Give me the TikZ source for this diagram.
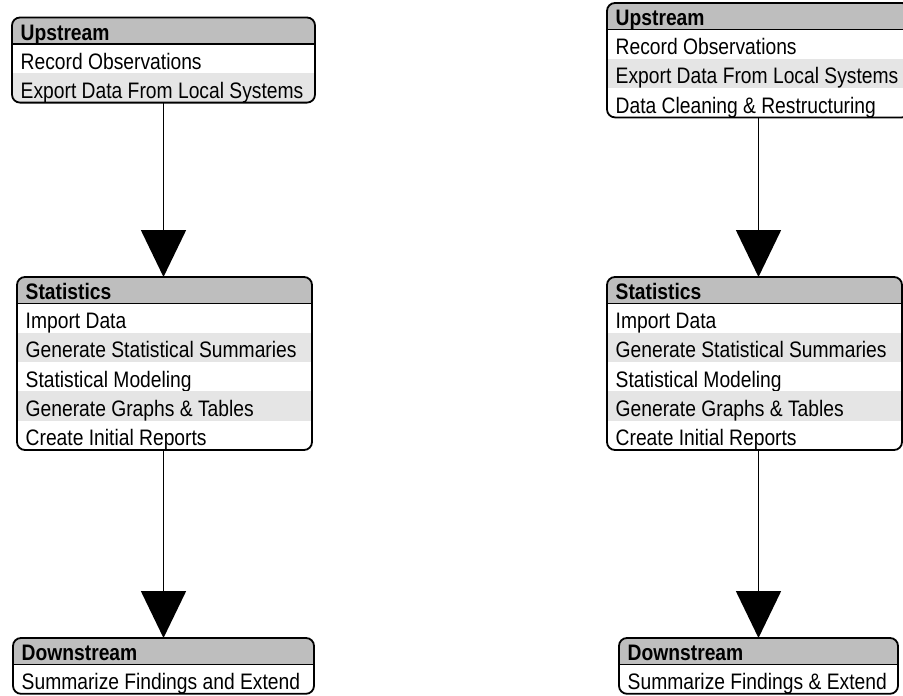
\documentclass[tikz,border=0pt]{standalone}
\usepackage{fontspec}
\setmainfont{Liberation Sans}[FakeStretch=0.86]
\usetikzlibrary{arrows.meta,calc}
\definecolor{headgray}{RGB}{190,190,190}
\definecolor{rowgray}{RGB}{229,229,229}
\tikzset{
  boxframe/.style={draw=black, line width=1.8pt, rounded corners=8pt, inner sep=0pt, outer sep=0pt, anchor=north west},
  rowtext/.style={anchor=base west, inner sep=0pt, font=\fontsize{22.4}{26}\selectfont},
  headtext/.style={anchor=base west, inner sep=0pt, font=\fontsize{22.4}{26}\selectfont\bfseries},
  flow/.style={line width=1.7pt, -{Triangle[width=45pt,length=47pt]}},
}
% #1 name, #2 left, #3 width, #4 top, #5 number of rows, #6 header, #7 rows
\newcommand\umlbox[7]{%
  \pgfmathsetmacro\bR{#2+#3}%
  \pgfmathsetmacro\bH{26.5+#5*29.3}%
  \pgfmathsetmacro\bB{#4+\bH}%
  \pgfmathsetmacro\bS{#4+26.5}%
  \begin{scope}
    \clip[rounded corners=8pt] (#2,#4) rectangle (\bR,\bB);
    \fill[white] (#2,#4) rectangle (\bR,\bB);
    \fill[headgray] (#2,#4) rectangle (\bR,\bS);
    \foreach \t [count=\i] in {#7} {
      \pgfmathsetmacro\rt{\bS+(\i-1)*29.3}
      \ifodd\i\else\fill[rowgray] (#2,\rt) rectangle (\bR,\rt+29.3);\fi
      \node[rowtext] (#1-\i) at (#2+8.5,\rt+25) {\t};
    }
  \end{scope}
  \node[headtext] (#1-h) at (#2+8.5,#4+22.5) {#6};
  \draw[line width=1.8pt] (#2,\bS) -- (\bR,\bS);
  \node[boxframe, minimum width=#3pt, minimum height=\bH pt] (#1) at (#2,#4) {};
}
\begin{document}
\begin{tikzpicture}[x=1pt,y=-1pt]
\path[use as bounding box, clip] (0,0) rectangle (903,696);
% left column
\umlbox{lu}{12}{303}{17.5}{2}{Upstream}{Record Observations,Export Data From Local Systems}
\umlbox{ls}{17}{295}{277}{5}{Statistics}{Import Data,Generate Statistical Summaries,Statistical Modeling,Generate Graphs \& Tables,Create Initial Reports}
\umlbox{ld}{13}{301}{638}{1}{Downstream}{Summarize Findings and Extend}
% right column
\umlbox{ru}{607}{303}{3}{3}{Upstream}{Record Observations,Export Data From Local Systems,Data Cleaning \& Restructuring}
\umlbox{rs}{607}{295}{277}{5}{Statistics}{Import Data,Generate Statistical Summaries,Statistical Modeling,Generate Graphs \& Tables,Create Initial Reports}
\umlbox{rd}{619}{279}{638}{1}{Downstream}{Summarize Findings \& Extend}
% connectors
\draw[flow] (lu.south) -- (lu.south |- ls.north);
\draw[flow] (ld.north |- ls.south) -- (ld.north);
\draw[flow] (ru.south) -- (ru.south |- rs.north);
\draw[flow] (rd.north |- rs.south) -- (rd.north);
\end{tikzpicture}
\end{document}
